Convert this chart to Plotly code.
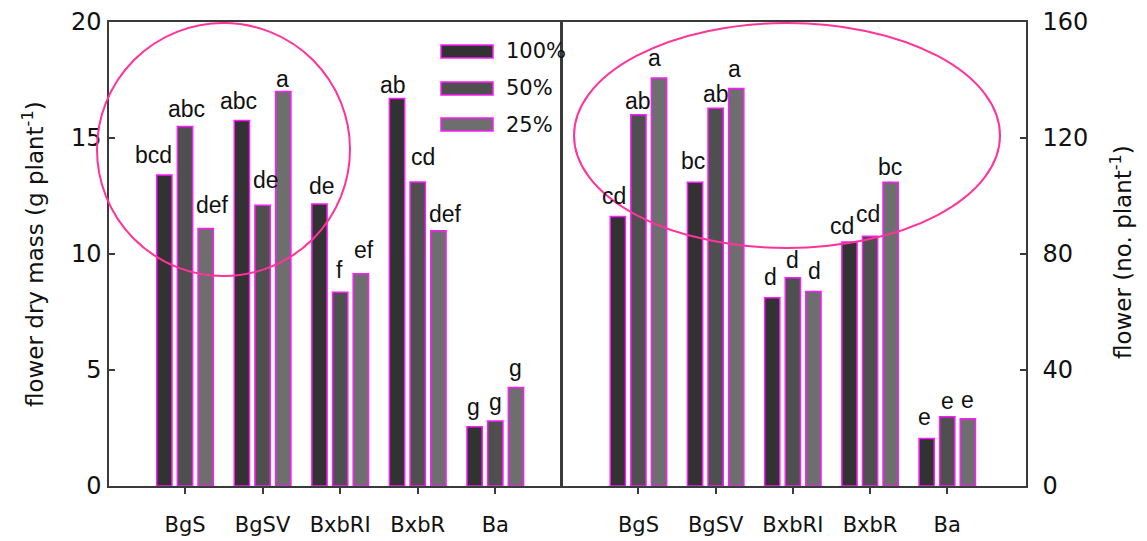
import plotly.graph_objects as go

# ---- data ----
categories = ["BgS", "BgSV", "BxbRI", "BxbR", "Ba"]
levels = ["100%", "50%", "25%"]

# flower dry mass (g plant-1)
mass_100 = [13.4, 15.75, 12.15, 16.7, 2.55]
mass_50 = [15.5, 12.1, 8.35, 13.1, 2.8]
mass_25 = [11.1, 17.0, 9.15, 11.0, 4.25]
mass_100_sig = ["bcd", "abc", "de", "ab", "g"]
mass_50_sig = ["abc", "de", "f", "cd", "g"]
mass_25_sig = ["def", "a", "ef", "def", "g"]

# flower number (no. plant-1)
count_100 = [92.9, 104.7, 64.9, 84.1, 16.4]
count_50 = [128.0, 130.3, 71.8, 86.1, 23.9]
count_25 = [140.7, 137.1, 67.1, 104.7, 23.2]
count_100_sig = ["cd", "bc", "d", "cd", "e"]
count_50_sig = ["ab", "ab", "d", "cd", "e"]
count_25_sig = ["a", "a", "d", "bc", "e"]

mass_ticks = [0, 5, 10, 15, 20]
count_ticks = [0, 40, 80, 120, 160]

# ---- styling ----
W, H = 1147, 541
fills = ["#323232", "#4f4f4f", "#6e6e6e"]
edge = "#ff1aff"
ring = "#ff3399"
axis_col = "#3a3a3a"
label_font = "DejaVu Sans"
letter_font = "Liberation Sans"
slot_px = 20.6  # horizontal distance between neighbouring bars in a group

# hand placement of the significance letters: (x nudge, gap above bar) in px
mass_nudge = [
    [(-11, 11), (1, 8), (7, 14)],
    [(-3, 11), (3, 16), (-1, 4)],
    [(2, 9), (-1, 13), (3, 15)],
    [(-4, 5), (5, 16), (7, 8)],
    [(-1, 11), (0, 10), (0, 10)],
]
count_nudge = [
    [(-4, 12), (0, 5), (-5, 11)],
    [(-2, 12), (0, 5), (-2, 10)],
    [(-2, 12), (0, 9), (1, 11)],
    [(-7, 7), (-2, 13), (-1, 6)],
    [(-2, 12), (0, 7), (0, 10)],
]


def px(x):
    return x / W


def py(y):
    return 1 - y / H


fig = go.Figure()

mass_series = [(mass_100, mass_100_sig), (mass_50, mass_50_sig), (mass_25, mass_25_sig)]
count_series = [(count_100, count_100_sig), (count_50, count_50_sig), (count_25, count_25_sig)]


def add_panel(series, nudges, xa, ya):
    for i, (vals, sig) in enumerate(series):
        fig.add_trace(go.Bar(
            x=categories, y=vals, name=levels[i],
            marker=dict(color=fills[i], line=dict(color=edge, width=1.5)),
            xaxis=xa, yaxis=ya, showlegend=False,
        ))
        for j, (cat, v, s) in enumerate(zip(categories, vals, sig)):
            dx, gap = nudges[j][i]
            fig.add_annotation(
                x=cat, y=v, xref=xa, yref=ya, text=s, showarrow=False,
                xanchor="center", yanchor="bottom",
                xshift=(i - 1) * slot_px + dx, yshift=gap - 6,
                font=dict(family=letter_font, size=23, color="#111"),
            )


add_panel(mass_series, mass_nudge, "x", "y")
add_panel(count_series, count_nudge, "x2", "y2")

x_left, x_mid_l, x_mid_r, x_right = px(109), px(560.5), px(562), px(1026)
y_bot, y_top = py(486), py(22)

common_x = dict(
    showline=True, linecolor=axis_col, linewidth=1.5, mirror=True,
    ticks="outside", ticklen=6, tickwidth=1.5, tickcolor=axis_col,
    tickfont=dict(family=label_font, size=21, color="#111"),
    ticklabelstandoff=13, showgrid=False, zeroline=False, automargin=False,
)
common_y = dict(
    showline=True, linecolor=axis_col, linewidth=1.5, mirror=True,
    ticks="inside", ticklen=6, tickwidth=1.5, tickcolor=axis_col,
    tickfont=dict(family=label_font, size=24, color="#111"),
    showgrid=False, zeroline=False, automargin=False,
)

fig.update_layout(
    width=W, height=H,
    margin=dict(l=0, r=0, t=0, b=0),
    paper_bgcolor="white", plot_bgcolor="white",
    barmode="group", bargap=0.2, bargroupgap=0.26,
    showlegend=False,
    xaxis=dict(domain=[x_left, x_mid_l], range=[-0.98, 4.86 - 1.5 / 77.4],
               anchor="y", **common_x),
    yaxis=dict(domain=[y_bot, y_top], range=[0, 20], tickvals=mass_ticks,
               anchor="x", ticklabelstandoff=1, **common_y),
    xaxis2=dict(domain=[x_mid_r, x_right], range=[-0.99, 5.02], anchor="y2", **common_x),
    yaxis2=dict(domain=[y_bot, y_top], range=[0, 160], tickvals=count_ticks,
                anchor="x2", side="right", ticklabelstandoff=10, **common_y),
)

# axis titles
fig.add_annotation(xref="paper", yref="paper", x=px(33), y=py(254),
                   text="flower dry mass (g plant<sup>-1</sup>)", textangle=-90,
                   showarrow=False, xanchor="center", yanchor="middle",
                   font=dict(family=label_font, size=23, color="#111"))
fig.add_annotation(xref="paper", yref="paper", x=px(1121), y=py(252),
                   text="flower (no. plant<sup>-1</sup>)", textangle=-90,
                   showarrow=False, xanchor="center", yanchor="middle",
                   font=dict(family=label_font, size=23, color="#111"))

# highlighted groups
fig.add_shape(type="circle", xref="paper", yref="paper",
              x0=px(97), x1=px(350), y0=py(276), y1=py(23),
              line=dict(color=ring, width=2))
fig.add_shape(type="circle", xref="paper", yref="paper",
              x0=px(574), x1=px(1000), y0=py(248), y1=py(23),
              line=dict(color=ring, width=2))

# legend
legend_rows = [51.5, 88.5, 124.5]
for i, yc in enumerate(legend_rows):
    fig.add_shape(type="rect", xref="paper", yref="paper",
                  x0=px(441), x1=px(493), y0=py(yc + 6.5), y1=py(yc - 6.5),
                  fillcolor=fills[i], line=dict(color=edge, width=1.5))
    fig.add_annotation(xref="paper", yref="paper", x=px(504), y=py(yc),
                       text=levels[i], showarrow=False, xanchor="left",
                       yanchor="middle",
                       font=dict(family=label_font, size=21, color="#111"))

fig.write_html("out.html")
